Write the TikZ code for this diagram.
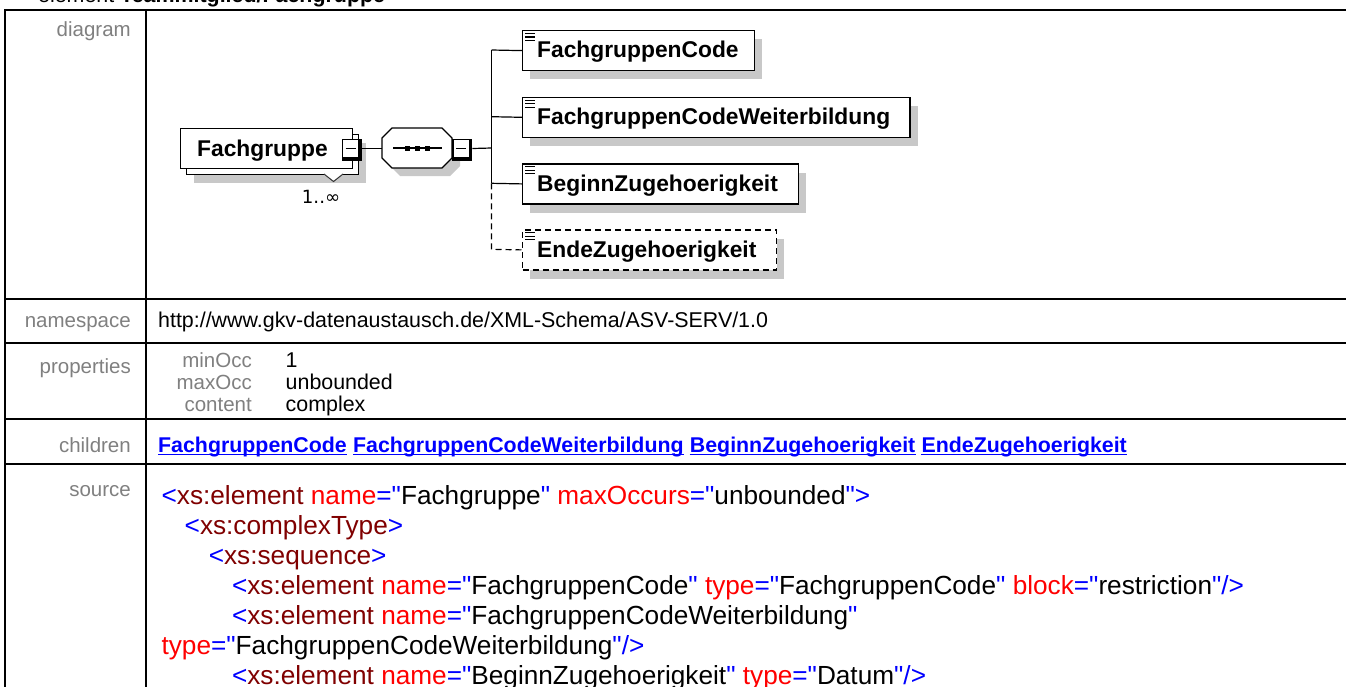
\documentclass[tikz,border=0pt]{standalone}
\usepackage{fontspec}
\setmainfont{Liberation Sans}[Ligatures=TeXOff]
\newfontfamily\dvs{DejaVu Sans}
\usetikzlibrary{calc}
\definecolor{lblgray}{RGB}{128,128,128}
\definecolor{shadowgray}{RGB}{200,200,200}
\definecolor{xblue}{RGB}{0,0,255}
\definecolor{xmaroon}{RGB}{128,0,0}
\definecolor{xred}{RGB}{255,0,0}
\newcommand{\srcB}[1]{\textcolor{xblue}{#1}}
\newcommand{\srcM}[1]{\textcolor{xmaroon}{#1}}
\newcommand{\srcR}[1]{\textcolor{xred}{#1}}
\begin{document}
\begin{tikzpicture}[x=1pt,y=-1pt,
  tbl/.style={line width=2pt, black},
  lbl/.style={anchor=base east, inner sep=0, text=lblgray, font=\fontsize{20.5}{24}\selectfont},
  val/.style={anchor=base west, inner sep=0, font=\fontsize{21.4}{25}\selectfont},
  lnk/.style={anchor=base west, inner sep=0, text=xblue, font=\bfseries\fontsize{21.35}{25}\selectfont},
  src/.style={anchor=base west, inner sep=0, font=\fontsize{26.2}{30}\selectfont},
  ebox/.style={draw=black, fill=white, line width=1.2pt, inner sep=0, anchor=north west},
  shad/.style={fill=shadowgray, draw=none, inner sep=0, anchor=north west},
  dtext/.style={anchor=base west, inner sep=0, font=\bfseries\fontsize{22.8}{26}\selectfont},
  conn/.style={line width=1.2pt},
  dconn/.style={line width=1.2pt, dash pattern=on 6pt off 4pt},
  mback/.style={fill=black, inner sep=0, anchor=north west, minimum width=20pt, minimum height=22pt},
  mfront/.style={fill=white, draw=black, line width=1pt, inner sep=0, anchor=north west, minimum width=16pt, minimum height=18pt},
  dot/.style={fill=black, inner sep=0, minimum size=5pt},
  icon/.style={line width=1.2pt}
]
\useasboundingbox (0,0) rectangle (1346,686);
\clip (0,0) rectangle (1346,686);
\fill[white] (0,0) rectangle (1346,686);

% ---------- title (cut off at the top) ----------
\node[anchor=base west, inner sep=0, font=\fontsize{21.4}{25}\selectfont] (title) at (38,2.5) {element \textbf{Teammitglied/Fachgruppe}};

% ---------- table grid ----------
\draw[tbl] (1352,9.5) -- (5,9.5) -- (5,692);
\draw[tbl] (146,9.5) -- (146,692);
\draw[tbl] (5,299) -- (1352,299);
\draw[tbl] (5,343) -- (1352,343);
\draw[tbl] (5,419) -- (1352,419);
\draw[tbl] (5,464) -- (1352,464);

% ---------- left labels ----------
\node[lbl] (Ldiagram) at (131,36.5) {diagram};
\node[lbl] (Lns) at (131,327) {namespace};
\node[lbl] (Lprop) at (131,373) {properties};
\node[lbl] (Lchild) at (131,452) {children};
\node[lbl] (Lsrc) at (131,496) {source};

% ---------- namespace ----------
\node[val] (ns) at (158,327) {http://www.gkv-datenaustausch.de/XML-Schema/ASV-SERV/1.0};

% ---------- properties ----------
\node[lbl] (pminL) at (252,367) {minOcc};
\node[lbl] (pmaxL) at (252,389) {maxOcc};
\node[lbl] (pconL) at (252,411) {content};
\node[val] (pmin) at (285.5,367) {1};
\node[val] (pmax) at (285.5,389) {unbounded};
\node[val] (pcon) at (285.5,411) {complex};

% ---------- children links ----------
\node[lnk] (l1) at (158,452) {FachgruppenCode};
\node[lnk] (l2) at ([xshift=5.9pt]l1.base east) {FachgruppenCodeWeiterbildung};
\node[lnk] (l3) at ([xshift=5.9pt]l2.base east) {BeginnZugehoerigkeit};
\node[lnk] (l4) at ([xshift=5.9pt]l3.base east) {EndeZugehoerigkeit};
\foreach \l in {l1,l2,l3,l4}{
  \draw[xblue, line width=1.4pt] ([yshift=-2.4pt]\l.base west) -- ([yshift=-2.4pt]\l.base east);
}

% ---------- source ----------
\node[src] (s1) at (161.4,504) {\srcB{<}\srcM{xs:element} \srcR{name}\srcB{="}Fachgruppe\srcB{"} \srcR{maxOccurs}\srcB{="}unbounded\srcB{">}};
\node[src] (s2) at (184.5,534) {\srcB{<}\srcM{xs:complexType}\srcB{>}};
\node[src] (s3) at (208.6,564) {\srcB{<}\srcM{xs:sequence}\srcB{>}};
\node[src] (s4) at (231.8,594) {\srcB{<}\srcM{xs:element} \srcR{name}\srcB{="}FachgruppenCode\srcB{"} \srcR{type}\srcB{="}FachgruppenCode\srcB{"} \srcR{block}\srcB{="}restriction\srcB{"/>}};
\node[src] (s5) at (231.8,624) {\srcB{<}\srcM{xs:element} \srcR{name}\srcB{="}FachgruppenCodeWeiterbildung\srcB{"}};
\node[src] (s6) at (161.4,654) {\srcR{type}\srcB{="}FachgruppenCodeWeiterbildung\srcB{"/>}};
\node[src] (s7) at (231.8,684) {\srcB{<}\srcM{xs:element} \srcR{name}\srcB{="}BeginnZugehoerigkeit\srcB{"} \srcR{type}\srcB{="}Datum\srcB{"/>}};

% ---------- diagram: element Fachgruppe ----------
\node[shad, minimum width=172pt, minimum height=40pt] (fgS) at (194,143) {};
\node[ebox, minimum width=172pt, minimum height=40pt] (fgB) at (186,134) {};
\node[ebox, minimum width=172pt, minimum height=40pt] (fgF) at (180,128) {};
\node[dtext] (fgT) at (197,156) {Fachgruppe};
\fill[white] (324,174) -- (343,174) -- (333.5,181.5) -- cycle;
\draw[line width=1pt, black!80] (324,174) -- (333.5,181.5) -- (343,174);
\node[anchor=base west, inner sep=0, font=\dvs\fontsize{18.2}{22}\selectfont] (occ) at (301.7,203.3) {1..∞};
\node[mback] (m1b) at (341.5,138.5) {};
\node[mfront] (m1) at (342,139) {};
\draw[line width=1.3pt] ([xshift=-5pt]m1.center) -- ([xshift=5pt]m1.center);

% ---------- diagram: sequence compositor ----------
\fill[shadowgray] (400,136) -- (450,136) -- (460,146) -- (460,166) -- (450,176) -- (400,176) -- (390,166) -- (390,146) -- cycle;
\node[inner sep=0, minimum width=70pt, minimum height=40pt] (seq) at (417,148) {};
\draw[line width=1.2pt, fill=white] (392,128) -- (442,128) -- (452,138) -- (452,158) -- (442,168) -- (392,168) -- (382,158) -- (382,138) -- cycle;
\draw[conn] (393,148) -- (442,148);
\node[dot] (d1) at (407.5,148) {};
\node[dot] (d2) at (417.5,148) {};
\node[dot] (d3) at (427.5,148) {};
\node[mback] (m2b) at (452,138.5) {};
\node[mfront] (m2) at (452.5,139) {};
\draw[line width=1.3pt] ([xshift=-5pt]m2.center) -- ([xshift=5pt]m2.center);

\draw[conn] (m1b.east |- m1.center) -- (seq.west |- m1.center);

% ---------- diagram: children ----------
\node[shad, minimum width=232pt, minimum height=40pt] (c1S) at (530,39) {};
\node[shad, minimum width=387.3pt, minimum height=40pt] (c2S) at (530,105.7) {};
\node[shad, minimum width=275.7pt, minimum height=40pt] (c3S) at (530,172.3) {};
\node[shad, minimum width=254pt, minimum height=40pt] (c4S) at (530,238.3) {};
\node[ebox, minimum width=232pt, minimum height=40pt] (c1) at (522,30) {};
\node[ebox, minimum width=387.3pt, minimum height=40pt] (c2) at (522,96.7) {};
\node[ebox, minimum width=275.7pt, minimum height=40pt] (c3) at (522,163.3) {};
\node[ebox, dash pattern=on 6pt off 4pt, minimum width=254pt, minimum height=40pt] (c4) at (522,229.3) {};
\foreach \c in {c1,c2,c3,c4}{
  \draw[icon] ([xshift=3pt,yshift=-3.5pt]\c.north west) -- ++(10pt,0);
  \draw[icon] ([xshift=3pt,yshift=-7pt]\c.north west) -- ++(10pt,0);
  \draw[icon] ([xshift=3pt,yshift=-10.5pt]\c.north west) -- ++(10pt,0);
}
\node[dtext] (t1) at (537,57.8) {FachgruppenCode};
\node[dtext] (t2) at (537,124.5) {FachgruppenCodeWeiterbildung};
\node[dtext] (t3) at (537,191.1) {BeginnZugehoerigkeit};
\node[dtext] (t4) at (537,257.1) {EndeZugehoerigkeit};

% ---------- diagram: bus ----------
\coordinate (bus0) at (491.5,148);
\coordinate (bus1) at (491.5,50);
\coordinate (bus2) at (491.5,116.7);
\coordinate (bus3) at (491.5,183.3);
\coordinate (bus4) at (491.5,249.3);
\draw[conn] (m2b.east |- m2.center) -- (bus0);
\draw[conn] (bus1) -- (bus3);
\draw[conn] (bus1) -- (c1.west);
\draw[conn] (bus2) -- (c2.west);
\draw[conn] (bus3) -- (c3.west);
\draw[dconn] (bus3) -- (bus4) -- (c4.west);
\end{tikzpicture}
\end{document}
